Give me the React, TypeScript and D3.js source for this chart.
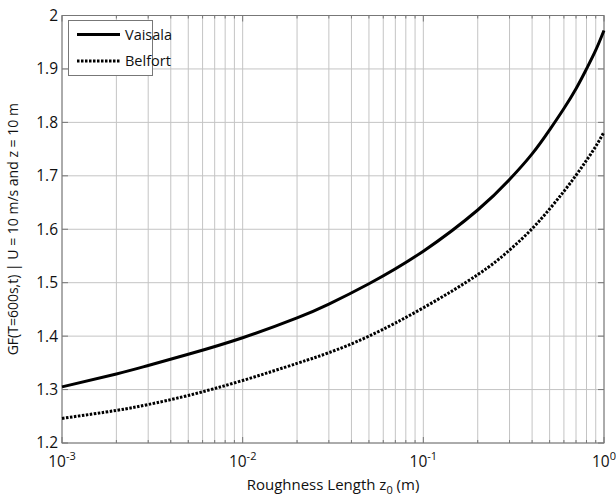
import React from "react";
import * as d3 from "d3";

const roughness = [0.001, 0.002, 0.003, 0.005, 0.01, 0.02, 0.03, 0.05, 0.1, 0.2, 0.3, 0.4, 0.5, 0.6, 0.7, 0.8, 0.9, 1];
const vaisala = [1.305, 1.329, 1.345, 1.366, 1.397, 1.434, 1.46, 1.498, 1.559, 1.636, 1.693, 1.741, 1.786, 1.826, 1.863, 1.9, 1.935, 1.972];
const belfort = [1.246, 1.261, 1.272, 1.289, 1.317, 1.349, 1.369, 1.4, 1.453, 1.515, 1.561, 1.601, 1.638, 1.671, 1.701, 1.729, 1.755, 1.782];
const yTicks = [1.2, 1.3, 1.4, 1.5, 1.6, 1.7, 1.8, 1.9, 2];
const yTickLabels = ["1.2", "1.3", "1.4", "1.5", "1.6", "1.7", "1.8", "1.9", "2"];
const xMajor = [0.001, 0.01, 0.1, 1];
const xMajorExp = ["-3", "-2", "-1", "0"];
const seriesNames = ["Vaisala", "Belfort"];

const W = 616, H = 496;
const L = 62, R = 604, T = 15.5, B = 443;
const font = "'Open Sans', sans-serif";

export default function App() {
  const x = d3.scaleLog().domain([0.001, 1]).range([L, R]);
  const y = d3.scaleLinear().domain([1.2, 2]).range([B, T]);
  const minor: number[] = [];
  for (let e = -3; e < 0; e++) for (let m = 1; m <= 9; m++) minor.push(m * Math.pow(10, e));
  minor.push(1);
  const line = d3
    .line<number>()
    .x((_, i) => x(roughness[i]))
    .y((d) => y(d))
    .curve(d3.curveNatural);
  const grid = "#c4c4c4";
  const axis = "#777";
  return (
    <svg width={W} height={H} style={{ position: "absolute", left: 0, top: 0 }}>
      <rect x={0} y={0} width={W} height={H} fill="#fff" />
      {minor.map((v, i) => (
        <line key={"gx" + i} x1={x(v)} x2={x(v)} y1={T} y2={B} stroke={grid} strokeWidth={1} />
      ))}
      {yTicks.map((v, i) => (
        <line key={"gy" + i} x1={L} x2={R} y1={y(v)} y2={y(v)} stroke={grid} strokeWidth={1} />
      ))}
      {minor.map((v, i) => (
        <g key={"tx" + i}>
          <line x1={x(v)} x2={x(v)} y1={B} y2={B - (xMajor.includes(v) ? 6 : 3)} stroke={axis} />
          <line x1={x(v)} x2={x(v)} y1={T} y2={T + (xMajor.includes(v) ? 6 : 3)} stroke={axis} />
        </g>
      ))}
      {yTicks.map((v, i) => (
        <g key={"ty" + i}>
          <line x1={L} x2={L + 6} y1={y(v)} y2={y(v)} stroke={axis} />
          <line x1={R} x2={R - 6} y1={y(v)} y2={y(v)} stroke={axis} />
          <text x={L - 4} y={y(v)} dy="0.35em" textAnchor="end" fontFamily={font} fontSize={15.5} fill="#111">
            {yTickLabels[i]}
          </text>
        </g>
      ))}
      {xMajor.map((v, i) => (
        <text key={"xl" + i} x={x(v)} y={467} textAnchor="middle" fontFamily={font} fontSize={15.5} fill="#111">
          10<tspan dy={-7} fontSize={11}>{xMajorExp[i]}</tspan>
        </text>
      ))}
      <rect x={L} y={T} width={R - L} height={B - T} fill="none" stroke={axis} strokeWidth={1} />
      <path d={line(vaisala) || ""} fill="none" stroke="#000" strokeWidth={3} />
      <path d={line(belfort) || ""} fill="none" stroke="#000" strokeWidth={3} strokeDasharray="2.5,1.5" />
      <g>
        <rect x={68.5} y={20.5} width={84} height={55} fill="#fff" stroke={axis} strokeWidth={1} />
        <line x1={77} x2={120} y1={34.5} y2={34.5} stroke="#000" strokeWidth={3} />
        <line x1={77} x2={120} y1={61} y2={61} stroke="#000" strokeWidth={3} strokeDasharray="2.5,1.5" />
        <text x={125} y={34.5} dy="0.35em" fontFamily={font} fontSize={14.5} fill="#111">{seriesNames[0]}</text>
        <text x={125} y={61} dy="0.35em" fontFamily={font} fontSize={14.5} fill="#111">{seriesNames[1]}</text>
      </g>
      <text x={(L + R) / 2} y={490} textAnchor="middle" fontFamily={font} fontSize={15} fill="#111">
        Roughness Length z<tspan dy={4} fontSize={11}>0</tspan><tspan dy={-4}> (m)</tspan>
      </text>
      <text transform={`translate(18,${(T + B) / 2}) rotate(-90)`} textAnchor="middle" fontFamily={font} fontSize={14} fill="#111">
        GF(T=600s,t) | U = 10 m/s and z = 10 m
      </text>
    </svg>
  );
}
